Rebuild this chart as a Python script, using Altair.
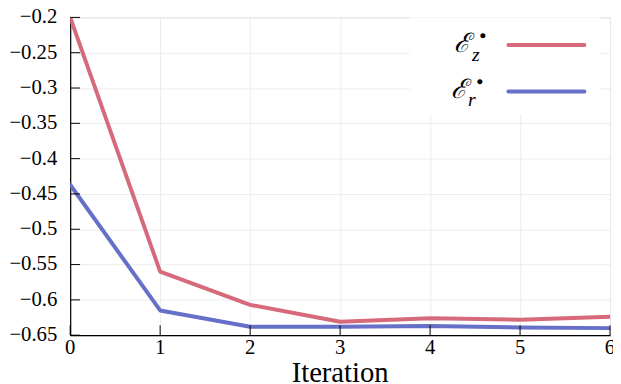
import altair as alt
import pandas as pd

# ---- data ----
iterations = [0, 1, 2, 3, 4, 5, 6]
e_z = [-0.200, -0.560, -0.607, -0.631, -0.626, -0.628, -0.624]
e_r = [-0.437, -0.615, -0.638, -0.638, -0.637, -0.639, -0.640]
series_names = ["Ez", "Er"]
series_colors = ["#d66a7b", "#6670c8"]
x_ticks = [0, 1, 2, 3, 4, 5, 6]
x_tick_labels = ["0", "1", "2", "3", "4", "5", "6"]
y_ticks = [-0.65, -0.6, -0.55, -0.5, -0.45, -0.4, -0.35, -0.3, -0.25, -0.2]
y_tick_labels = ["−0.65", "−0.6", "−0.55", "−0.5", "−0.45", "−0.4", "−0.35", "−0.3", "−0.25", "−0.2"]
x_title = "Iteration"

W, H = 547, 322
FONT = "Liberation Serif"

rows = []
for name, vals in zip(series_names, [e_z, e_r]):
    for it, v in zip(iterations, vals):
        rows.append({"iter": it, "value": v, "series": name})
df = pd.DataFrame(rows)

xs = alt.Scale(domain=[0, 6], nice=False, zero=False)
ys = alt.Scale(domain=[-0.65, -0.2], nice=False, zero=False)
cs = alt.Scale(domain=series_names, range=series_colors)

xaxis = alt.Axis(values=x_ticks, title=None, labels=False, ticks=False,
                 domainColor="black", domainWidth=1.2,
                 grid=True, gridColor="#e8e8e8", gridWidth=0.8)
yaxis = alt.Axis(values=y_ticks, title=None, labels=False, ticks=False,
                 domainColor="black", domainWidth=1.2,
                 grid=True, gridColor="#e8e8e8", gridWidth=0.8)

lines = alt.Chart(df).mark_line(strokeWidth=4, strokeCap="round", strokeJoin="round", clip=True).encode(
    x=alt.X("iter:Q", scale=xs, axis=xaxis),
    y=alt.Y("value:Q", scale=ys, axis=yaxis),
    color=alt.Color("series:N", scale=cs, legend=None),
    detail="series:N",
)

ytick_df = pd.DataFrame({"value": y_ticks, "label": y_tick_labels})
xtick_df = pd.DataFrame({"iter": x_ticks, "label": x_tick_labels})
yticks = alt.Chart(ytick_df).mark_rule(color="black", strokeWidth=1).encode(
    y=alt.Y("value:Q", scale=ys, axis=yaxis), x=alt.value(0), x2=alt.value(10))
xticks = alt.Chart(xtick_df).mark_rule(color="black", strokeWidth=1).encode(
    x=alt.X("iter:Q", scale=xs, axis=xaxis), y=alt.value(H), y2=alt.value(H - 10))

ylabels = alt.Chart(ytick_df).mark_text(font=FONT, fontSize=21, color="black",
                                        align="right", baseline="middle").encode(
    y=alt.Y("value:Q", scale=ys, axis=yaxis), x=alt.value(-13), text="label:N")
xlabels = alt.Chart(xtick_df).mark_text(font=FONT, fontSize=21, color="black",
                                        align="center", baseline="middle").encode(
    x=alt.X("iter:Q", scale=xs, axis=xaxis), y=alt.value(H + 13), text="label:N")

# legend box (covers grid)
leg_df = pd.DataFrame({"series": series_names, "color": series_colors})
box = alt.Chart(leg_df.head(1)).mark_rect(fill="white").encode(
    x=alt.value(344), x2=alt.value(536), y=alt.value(0), y2=alt.value(98))

leg_red = alt.Chart(leg_df.head(1)).mark_rule(strokeWidth=4, strokeCap="round", color=series_colors[0]).encode(
    x=alt.value(444), x2=alt.value(521), y=alt.value(28))
leg_blue = alt.Chart(leg_df.head(1)).mark_rule(strokeWidth=4, strokeCap="round", color=series_colors[1]).encode(
    x=alt.value(444), x2=alt.value(521), y=alt.value(75))

def txt(s, x, y, size, italic=False, font=FONT, baseline="middle"):
    return alt.Chart(leg_df.head(1)).mark_text(
        text=s, font=font, fontSize=size,
        fontStyle="italic" if italic else "normal", color="black",
        align="center", baseline=baseline).encode(x=alt.value(x), y=alt.value(y))

leg_texts = [
    txt("ℰ", 397, 27, 27, True, "DejaVu Serif"),
    txt("z", 411, 38, 20, True),
    txt("●", 418, 18, 12),
    txt("ℰ", 394, 74, 27, True, "DejaVu Serif"),
    txt("r", 407, 84, 20, True),
    txt("●", 415, 65, 12),
    txt(x_title, W / 2, H + 47, 29, False, FONT, "alphabetic"),
]

chart = alt.layer(lines, yticks, xticks, ylabels, xlabels, box, leg_red, leg_blue, *leg_texts).properties(
    width=W, height=H,
    autosize=alt.AutoSizeParams(type="none"),
    padding={"left": 63, "top": 7, "right": 3, "bottom": 52},
).configure_view(stroke=None).configure(background="white")

chart.save("out.html", embed_options={"renderer": "svg", "actions": False})
